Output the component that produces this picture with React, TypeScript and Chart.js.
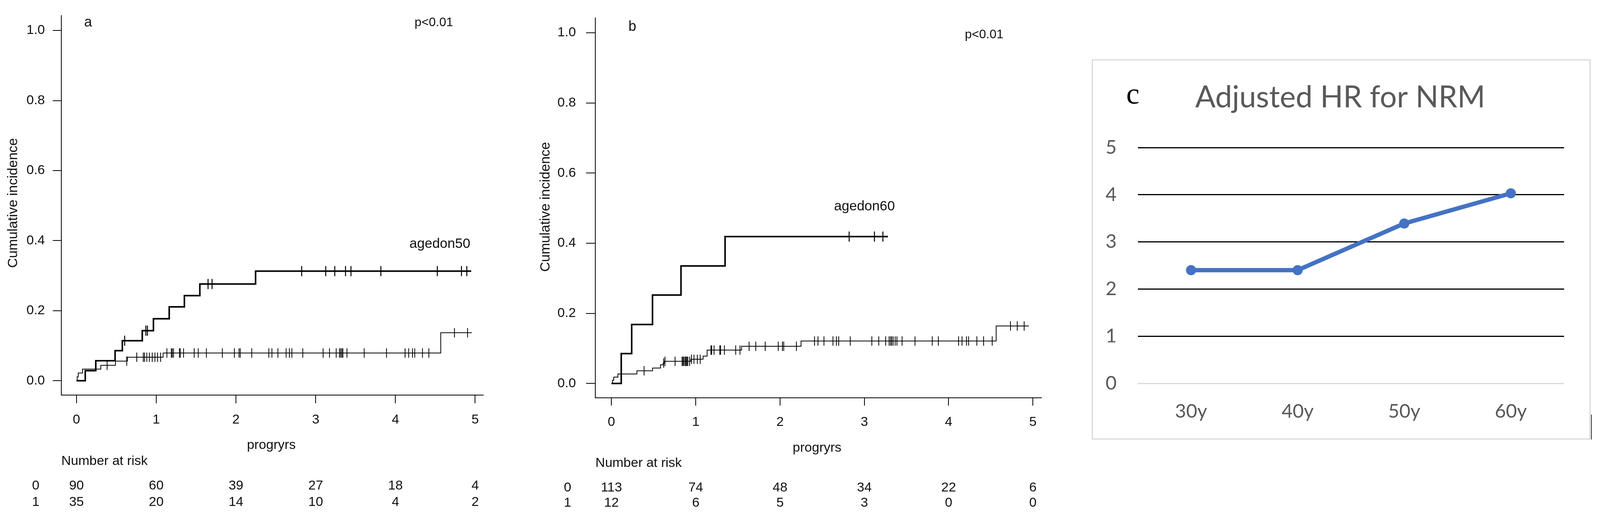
import React, { useEffect, useRef } from "react";
import { Chart, registerables } from "chart.js";

Chart.register(...registerables);

const SANS = "'Liberation Sans', Arial, Helvetica, sans-serif";
const LATO = "Lato, 'Open Sans', sans-serif";
const SERIF = "'Liberation Serif', 'Times New Roman', serif";

// ---------- shared axis ticks ----------
const timeTicks = [0, 1, 2, 3, 4, 5];
const incidenceTicks = [0, 0.2, 0.4, 0.6, 0.8, 1.0];
const riskTimes = [0, 1, 2, 3, 4, 5];
const groupLabels = ["0", "1"];

// ---------- panel a (agedon50) ----------
const aG1Times = [0, 0.11, 0.242, 0.484, 0.575, 0.825, 0.965, 1.163, 1.353, 1.547, 2.246, 4.95];
const aG1Values = [0, 0.0286, 0.0571, 0.0857, 0.1143, 0.1429, 0.177, 0.211, 0.243, 0.276, 0.313, 0.313];
const aG1Censor = [0.604, 0.87, 0.89, 1.65, 1.7, 2.824, 3.126, 3.239, 3.374, 3.442, 3.817, 4.525, 4.828, 4.895];
const aG0Times = [0, 0.009, 0.022, 0.075, 0.305, 0.489, 0.638, 1.086, 4.568, 4.958];
const aG0Values = [0, 0.011, 0.022, 0.033, 0.044, 0.056, 0.067, 0.079, 0.137, 0.137];
const aG0Censor = [
  0.384, 0.63, 0.756, 0.838, 0.854, 0.882, 0.914, 0.95, 0.984, 1.017, 1.055, 1.134, 1.189, 1.201,
  1.217, 1.291, 1.302, 1.343, 1.476, 1.527, 1.629, 1.829, 1.98, 2.038, 2.054, 2.198, 2.412, 2.451,
  2.526, 2.629, 2.67, 2.701, 2.838, 3.093, 3.173, 3.257, 3.298, 3.313, 3.328, 3.341, 3.392, 3.608,
  3.888, 4.121, 4.166, 4.214, 4.242, 4.339, 4.419, 4.74, 4.904,
];
const aRisk0 = [90, 60, 39, 27, 18, 4];
const aRisk1 = [35, 20, 14, 10, 4, 2];

// ---------- panel b (agedon60) ----------
const bG1Times = [0, 0.116, 0.24, 0.487, 0.825, 1.348, 3.28];
const bG1Values = [0, 0.085, 0.168, 0.252, 0.335, 0.419, 0.419];
const bG1Censor = [2.82, 3.12, 3.22];
const bG0Times = [0, 0.012, 0.027, 0.076, 0.302, 0.488, 0.582, 0.614, 0.63, 0.942, 1.087, 1.135, 1.544, 2.249, 4.564, 4.953];
const bG0Values = [0, 0.009, 0.018, 0.027, 0.036, 0.044, 0.053, 0.058, 0.063, 0.069, 0.078, 0.095, 0.106, 0.121, 0.164, 0.164];
const bG0Censor = [
  0.387, 0.62, 0.635, 0.755, 0.838, 0.849, 0.86, 0.875, 0.885, 0.895, 0.905, 0.927, 0.949, 0.979,
  1.019, 1.053, 1.18, 1.19, 1.217, 1.285, 1.295, 1.34, 1.474, 1.525, 1.633, 1.712, 1.824, 1.979,
  2.028, 2.044, 2.194, 2.409, 2.45, 2.521, 2.628, 2.669, 2.696, 2.833, 3.089, 3.171, 3.253, 3.294,
  3.311, 3.325, 3.342, 3.366, 3.387, 3.448, 3.601, 3.806, 3.878, 4.118, 4.159, 4.212, 4.237, 4.335,
  4.415, 4.517, 4.734, 4.814, 4.896,
];
const bRisk0 = [113, 74, 48, 34, 22, 6];
const bRisk1 = [12, 6, 5, 3, 0, 0];

// ---------- panel c ----------
const hrCategories = ["30y", "40y", "50y", "60y"];
const hrValues = [2.4, 2.4, 3.39, 4.03];
const hrTicks = [0, 1, 2, 3, 4, 5];

// The design is laid out on a 4252px-wide page; squeeze horizontally if the viewport is narrower.
const DESIGN_W = 4252;
const H = 1332;
const SX = Math.min(1, (typeof window !== "undefined" ? window.innerWidth || DESIGN_W : DESIGN_W) / DESIGN_W);
const X = (v: number) => v * SX;

function stepValue(times: number[], values: number[], t: number) {
  let v = values[0];
  for (let i = 0; i < times.length; i++) if (times[i] <= t) v = values[i];
  return v;
}

type Group = { times: number[]; values: number[]; censor: number[] };
type KMProps = {
  letter: string;
  left: number; // design px
  width: number; // design px
  area: { l: number; r: number; t: number; b: number };
  tickLenX: number;
  tickLenY: number;
  padY: number;
  tickFont: number;
  g1: Group;
  g0: Group;
  risk0: number[];
  risk1: number[];
  texts: {
    letter: [number, number];
    p: [number, number];
    group: [string, number, number];
    xTitle: [number, number];
    yTitle: [number, number];
    nar: [number, number];
    rows: [number, number];
    rowLabelX: number;
  };
};

function KMPanel(props: KMProps) {
  const ref = useRef<HTMLCanvasElement | null>(null);
  const cw = Math.round(X(props.width));
  const cl = X(props.left);
  useEffect(() => {
    const { area, g1, g0, texts } = props;
    const tx = (v: number) => X(v) - cl;
    const textPlugin = {
      id: "kmtext",
      afterDraw(chart: any) {
        const ctx = chart.ctx;
        const xs = chart.scales.x;
        ctx.save();
        ctx.fillStyle = "#111";
        ctx.textBaseline = "middle";
        ctx.textAlign = "center";
        ctx.font = `36px ${SANS}`;
        ctx.fillText(props.letter, tx(texts.letter[0]), texts.letter[1]);
        ctx.font = `32px ${SANS}`;
        ctx.fillText("p<0.01", tx(texts.p[0]), texts.p[1]);
        ctx.font = `35px ${SANS}`;
        ctx.fillText(texts.group[0], tx(texts.group[1]), texts.group[2]);
        ctx.font = `34px ${SANS}`;
        ctx.fillText("progryrs", tx(texts.xTitle[0]), texts.xTitle[1]);
        ctx.textAlign = "left";
        ctx.fillText("Number at risk", tx(texts.nar[0]), texts.nar[1]);
        ctx.textAlign = "center";
        ctx.font = `34px ${SANS}`;
        const rows = [props.risk0, props.risk1];
        rows.forEach((row, ri) => {
          const y = texts.rows[ri];
          ctx.fillText(groupLabels[ri], tx(texts.rowLabelX), y);
          row.forEach((n, i) => {
            ctx.fillText(String(n), xs.getPixelForValue(riskTimes[i]), y);
          });
        });
        ctx.translate(tx(texts.yTitle[0]), texts.yTitle[1]);
        ctx.rotate(-Math.PI / 2);
        ctx.font = `35px ${SANS}`;
        ctx.fillText("Cumulative incidence", 0, 0);
        ctx.restore();
      },
    };
    const toPts = (times: number[], values: number[]) => times.map((t, i) => ({ x: t, y: values[i] }));
    const censorPts = (g: Group) => g.censor.map((t) => ({ x: t, y: stepValue(g.times, g.values, t) }));
    const chart = new Chart(ref.current as HTMLCanvasElement, {
      type: "line",
      data: {
        datasets: [
          { data: toPts(g1.times, g1.values), borderColor: "#000", borderWidth: 4, pointRadius: 0, stepped: "before", fill: false },
          { data: toPts(g0.times, g0.values), borderColor: "#000", borderWidth: 2, pointRadius: 0, stepped: "before", fill: false },
          {
            data: censorPts(g1),
            showLine: false,
            pointStyle: "line",
            rotation: 90,
            pointRadius: 13,
            pointBorderWidth: 2.5,
            pointBorderColor: "#000",
            borderColor: "#000",
          },
          {
            data: censorPts(g0),
            showLine: false,
            pointStyle: "line",
            rotation: 90,
            pointRadius: 12,
            pointBorderWidth: 2,
            pointBorderColor: "#000",
            borderColor: "#000",
          },
        ] as any,
      },
      options: {
        animation: false,
        responsive: false,
        devicePixelRatio: 1,
        events: [],
        layout: { padding: { left: 0, top: area.t, right: cw - (X(area.r) - cl), bottom: 0 } },
        plugins: { legend: { display: false }, title: { display: false }, tooltip: { enabled: false } },
        scales: {
          x: {
            type: "linear",
            min: -0.19,
            max: 5.1,
            afterBuildTicks: (s: any) => {
              s.ticks = timeTicks.map((v) => ({ value: v }));
            },
            afterFit: (s: any) => {
              s.height = H - area.b;
            },
            ticks: {
              color: "#111",
              font: { family: SANS, size: props.tickFont },
              padding: 22,
              maxRotation: 0,
              autoSkip: false,
              callback: (v: any) => String(v),
            },
            grid: { drawOnChartArea: false, drawTicks: true, tickLength: props.tickLenX, color: "#000", lineWidth: 2 },
            border: { display: true, color: "#000", width: 2 },
          },
          y: {
            type: "linear",
            min: -0.041,
            max: 1.042,
            afterBuildTicks: (s: any) => {
              s.ticks = incidenceTicks.map((v) => ({ value: v }));
            },
            afterFit: (s: any) => {
              s.width = X(area.l) - cl;
            },
            ticks: {
              color: "#111",
              font: { family: SANS, size: props.tickFont },
              padding: props.padY,
              autoSkip: false,
              callback: (v: any) => Number(v).toFixed(1),
            },
            grid: { drawOnChartArea: false, drawTicks: true, tickLength: props.tickLenY, color: "#000", lineWidth: 2 },
            border: { display: true, color: "#000", width: 2 },
          },
        },
      } as any,
      plugins: [textPlugin],
    });
    return () => chart.destroy();
  }, []);
  return (
    <canvas ref={ref} width={cw} height={H} style={{ position: "absolute", left: cl, top: 0, width: cw, height: H }} />
  );
}

function HRPanel() {
  const ref = useRef<HTMLCanvasElement | null>(null);
  const cl = X(2880);
  const cw = Math.round(X(1372));
  useEffect(() => {
    const tx = (v: number) => X(v) - cl;
    const textPlugin = {
      id: "hrtext",
      afterDraw(chart: any) {
        const ctx = chart.ctx;
        ctx.save();
        ctx.textAlign = "center";
        ctx.textBaseline = "middle";
        ctx.fillStyle = "#595959";
        ctx.font = `77px ${LATO}`;
        ctx.fillText("Adjusted HR for NRM", tx(3562), 250);
        ctx.fillStyle = "#000";
        ctx.font = `76px ${SERIF}`;
        ctx.fillText("c", tx(3011), 245);
        ctx.restore();
      },
    };
    const chart = new Chart(ref.current as HTMLCanvasElement, {
      type: "line",
      data: {
        labels: hrCategories,
        datasets: [
          {
            data: hrValues,
            borderColor: "#4472C4",
            backgroundColor: "#4472C4",
            borderWidth: 11,
            pointRadius: 13,
            pointBackgroundColor: "#4472C4",
            pointBorderColor: "#4472C4",
            pointBorderWidth: 0,
            tension: 0,
            fill: false,
          },
        ],
      },
      options: {
        animation: false,
        responsive: false,
        devicePixelRatio: 1,
        events: [],
        layout: { padding: { left: 0, top: 378, right: cw - (X(4157) - cl), bottom: 0 } },
        plugins: { legend: { display: false }, title: { display: false }, tooltip: { enabled: false } },
        scales: {
          x: {
            type: "category",
            offset: true,
            afterFit: (s: any) => {
              s.height = H - 982;
            },
            ticks: { color: "#595959", font: { family: LATO, size: 49 }, padding: 43, maxRotation: 0 },
            grid: { display: false, drawTicks: false },
            border: { display: false },
          },
          y: {
            type: "linear",
            min: 0,
            max: 5,
            afterBuildTicks: (s: any) => {
              s.ticks = hrTicks.map((v) => ({ value: v }));
            },
            afterFit: (s: any) => {
              s.width = X(3024) - cl;
            },
            ticks: { color: "#595959", font: { family: LATO, size: 49 }, padding: X(56) },
            grid: {
              drawTicks: false,
              color: (c: any) => (c.tick && c.tick.value === 0 ? "#d9d9d9" : "#000"),
              lineWidth: 3,
            },
            border: { display: false },
          },
        },
      } as any,
      plugins: [textPlugin],
    });
    return () => chart.destroy();
  }, []);
  return (
    <>
      <div
        style={{
          position: "absolute",
          left: X(2901),
          top: 152,
          width: X(4227 - 2901),
          height: 1126 - 152,
          border: "3px solid #d9d9d9",
          boxSizing: "border-box",
        }}
      />
      <div style={{ position: "absolute", left: X(4228), top: 1062, width: 2, height: 64, background: "#333" }} />
      <canvas ref={ref} width={cw} height={H} style={{ position: "absolute", left: cl, top: 0, width: cw, height: H }} />
    </>
  );
}

export default function App() {
  return (
    <div
      style={{
        position: "absolute",
        left: 0,
        top: 0,
        width: X(DESIGN_W),
        height: H,
        background: "#fff",
        overflow: "hidden",
      }}
    >
      <KMPanel
        letter="a"
        left={0}
        width={1400}
        area={{ l: 163, r: 1284, t: 27, b: 1012 }}
        tickLenX={21}
        tickLenY={22}
        padY={20}
        tickFont={34}
        g1={{ times: aG1Times, values: aG1Values, censor: aG1Censor }}
        g0={{ times: aG0Times, values: aG0Values, censor: aG0Censor }}
        risk0={aRisk0}
        risk1={aRisk1}
        texts={{
          letter: [234, 58],
          p: [1153, 58],
          group: ["agedon50", 1169, 625],
          xTitle: [721, 1141],
          yTitle: [36, 520],
          nar: [163, 1182],
          rows: [1245, 1287],
          rowLabelX: 95,
        }}
      />
      <KMPanel
        letter="b"
        left={1400}
        width={1480}
        area={{ l: 1582, r: 2767, t: 42, b: 1019 }}
        tickLenX={20}
        tickLenY={24}
        padY={26}
        tickFont={34}
        g1={{ times: bG1Times, values: bG1Values, censor: bG1Censor }}
        g0={{ times: bG0Times, values: bG0Values, censor: bG0Censor }}
        risk0={bRisk0}
        risk1={bRisk1}
        texts={{
          letter: [1680, 69],
          p: [2615, 89],
          group: ["agedon60", 2297, 529],
          xTitle: [2171, 1148],
          yTitle: [1450, 530],
          nar: [1582, 1187],
          rows: [1250, 1289],
          rowLabelX: 1508,
        }}
      />
      <HRPanel />
    </div>
  );
}
